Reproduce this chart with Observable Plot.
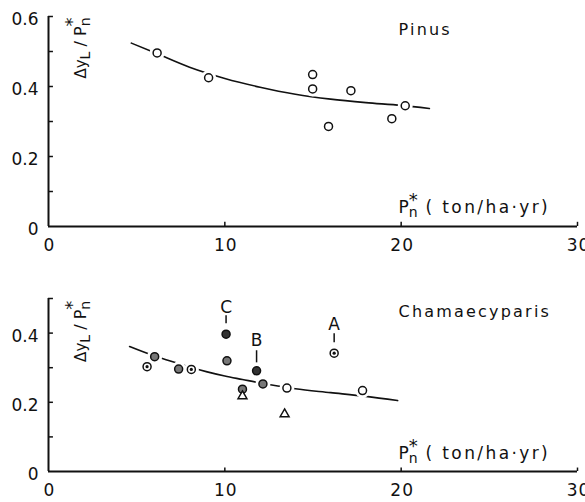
<!DOCTYPE html>
<html><head><meta charset="utf-8">
<script src="https://cdn.jsdelivr.net/npm/d3@7"></script>
<script src="https://cdn.jsdelivr.net/npm/@observablehq/plot@0.6"></script>
<style>
body{margin:0;background:#fff;}
#chart{width:585px;}
svg{display:block;}
.ls text{letter-spacing:2.2px;}
.tk text{letter-spacing:1px;}
</style></head><body><div id="chart"></div>
<script>
// ---- data ----
const xTicks = [0, 10, 20, 30];
const topYTicks = [0, 0.2, 0.4, 0.6];
const topYMinor = [0.1, 0.3, 0.5];
const botYTicks = [0, 0.2, 0.4];
const botYMinor = [0.1, 0.3, 0.5];

// Pinus observations
const pinusX = [6.16, 9.08, 14.98, 14.98, 17.15, 15.88, 19.47, 20.23];
const pinusY = [0.496, 0.425, 0.434, 0.393, 0.388, 0.286, 0.308, 0.345];
// Pinus fitted curve
const pinusCurveX = [4.7, 6, 8, 10, 12, 14, 16, 18, 20, 21.6];
const pinusCurveY = [0.524, 0.497, 0.455, 0.423, 0.398, 0.378, 0.364, 0.354, 0.346, 0.337];

// Chamaecyparis observations
const chamX = [5.59, 6.02, 7.38, 8.10, 8.61, 10.07, 10.12, 11.0, 11.0, 11.8, 12.16, 13.52, 13.75, 13.39, 16.2, 17.81];
const chamY = [0.303, 0.332, 0.296, 0.295, 0.346, 0.397, 0.320, 0.238, 0.218, 0.291, 0.253, 0.241, 0.301, 0.166, 0.342, 0.234];
const chamType = ["dot", "shaded", "shaded", "dot", "plus", "dark", "shaded", "shaded", "triangle", "dark", "shaded", "open", "plus", "triangle", "dot", "open"];
// Chamaecyparis fitted curve
const chamCurveX = [4.6, 6, 7, 8, 9, 10, 11, 12, 13, 14, 16, 18, 19.8];
const chamCurveY = [0.361, 0.334, 0.318, 0.302, 0.288, 0.276, 0.266, 0.256, 0.247, 0.239, 0.228, 0.217, 0.205];

// Letter annotations
const annName = ["C", "B", "A"];
const annX = [10.07, 11.8, 16.2];
const annTextY = [0.474, 0.378, 0.426];
const annLineY1 = [0.427, 0.314, 0.372];
const annLineY2 = [0.450, 0.349, 0.398];

const FONT = "DejaVu Sans";
const zip = (xs, ys) => xs.map((x, i) => ({x, y: ys[i]}));

function panel({height, yMax, yTicks, yMinor, marginTop, marginBottom, points, curve, title, titleY, xlabY, extra}) {
  const circles = points.filter(d => ["open","shaded","dot","dark"].includes(d.type));
  const marks = [
    Plot.line(curve, {x: "x", y: "y", stroke: "#111", strokeWidth: 1.6, curve: "monotone-x"}),
    Plot.dot(circles, {x: "x", y: "y", r: 7.5, fill: "white", stroke: "none"}),
    // axes
    Plot.ruleY([0], {x1: 0, x2: 30, stroke: "#111", strokeWidth: 2}),
    Plot.ruleX([0], {y1: 0, y2: yMax, stroke: "#111", strokeWidth: 2}),
    Plot.ruleY(yTicks.concat(yMinor).filter(d => d > 0 && d <= yMax), {x1: 0, x2: 0.28, stroke: "#111", strokeWidth: 1.5}),
    Plot.ruleX(xTicks.filter(d => d > 0), {y1: 0, y2: yMax * 0.02, stroke: "#111", strokeWidth: 1.5}),
    Plot.text(yTicks, {x: 0, y: d => d, text: d => String(d), textAnchor: "end", dx: -10, dy: 3, fontSize: 17, fontFamily: FONT, fill: "#111"}),
    Plot.text(xTicks, {x: d => d, y: 0, text: d => String(d), dy: 19, dx: 1, fontSize: 17, fontFamily: FONT, fill: "#111", className: "tk"}),
    Plot.text([title], {x: 19.85, y: titleY, text: d => d, textAnchor: "start", fontSize: 16, fontFamily: FONT, fill: "#111", className: "ls"}),
    Plot.text(["XLABEL"], {x: 19.85, y: xlabY, text: d => d, textAnchor: "start", fontSize: 17, fontFamily: FONT, fill: "#111"}),
    Plot.text(["YLABEL"], {x: 2.15, y: yMax === 0.6 ? 0.51 : 0.405, text: d => d, rotate: -90, textAnchor: "middle", lineAnchor: "bottom", fontSize: 16, fontFamily: FONT, fill: "#111"}),
    // markers
    Plot.dot(points.filter(d => d.type === "open"), {x: "x", y: "y", r: 4, fill: "white", stroke: "#111", strokeWidth: 1.5}),
    Plot.dot(points.filter(d => d.type === "shaded"), {x: "x", y: "y", r: 4, fill: "#777", stroke: "#111", strokeWidth: 1.5}),
    Plot.dot(points.filter(d => d.type === "dark"), {x: "x", y: "y", r: 4, fill: "#333", stroke: "#111", strokeWidth: 1.5}),
    Plot.dot(points.filter(d => d.type === "dot"), {x: "x", y: "y", r: 4, fill: "white", stroke: "#111", strokeWidth: 1.5}),
    Plot.dot(points.filter(d => d.type === "dot"), {x: "x", y: "y", r: 1.6, fill: "#111"}),
    Plot.dot(points.filter(d => d.type === "plus"), {x: "x", y: "y", r: 2.2, symbol: "plus", fill: "#111"}),
    Plot.dot(points.filter(d => d.type === "triangle"), {x: "x", y: "y", r: 3.3, symbol: "triangle", fill: "white", stroke: "#111", strokeWidth: 1.5}),
    ...(extra || [])
  ];
  const plot = Plot.plot({
    width: 585, height, marginLeft: 48, marginRight: 8, marginTop, marginBottom,
    x: {domain: [0, 30], axis: null},
    y: {domain: [0, yMax], axis: null},
    style: {fontFamily: FONT, background: "white", overflow: "visible"},
    marks
  });
  const svg = d3.select(plot.tagName === "svg" ? plot : plot.querySelector("svg"));
  svg.selectAll("text").each(function() {
    const t = d3.select(this);
    if (this.textContent === "XLABEL") {
      t.html('<tspan>P</tspan><tspan dy="4" font-size="14">n</tspan><tspan dx="-9" dy="-11" font-size="18">*</tspan><tspan dy="7" style="letter-spacing:2.4px"> ( ton/ha·yr)</tspan>');
    } else if (this.textContent === "YLABEL") {
      t.html('<tspan font-size="15">Δy</tspan><tspan dy="4" font-size="14">L</tspan><tspan dy="-4"> / P</tspan><tspan dy="4" font-size="14">n</tspan><tspan dx="-9" dy="-12" font-size="18">*</tspan>');
    }
  });
  return plot;
}

const topPanel = panel({
  height: 252, yMax: 0.6, yTicks: topYTicks, yMinor: topYMinor, marginTop: 16, marginBottom: 26,
  points: zip(pinusX, pinusY).map(d => ({...d, type: "open"})),
  curve: zip(pinusCurveX, pinusCurveY),
  title: "Pinus", titleY: 0.563, xlabY: 0.054
});

const annData = annName.map((n, i) => ({n, x: annX[i], ty: annTextY[i], y1: annLineY1[i], y2: annLineY2[i]}));
const botPanel = panel({
  height: 250, yMax: 0.5, yTicks: botYTicks, yMinor: botYMinor, marginTop: 46, marginBottom: 31,
  points: chamX.map((x, i) => ({x, y: chamY[i], type: chamType[i]})),
  curve: zip(chamCurveX, chamCurveY),
  title: "Chamaecyparis", titleY: 0.462, xlabY: 0.052,
  extra: [
    Plot.ruleX(annData, {x: "x", y1: "y1", y2: "y2", stroke: "#111", strokeWidth: 1.5}),
    Plot.text(annData, {x: "x", y: "ty", text: "n", fontSize: 17, fontFamily: FONT, fill: "#111"})
  ]
});

document.getElementById("chart").append(topPanel, botPanel);
</script></body></html>
